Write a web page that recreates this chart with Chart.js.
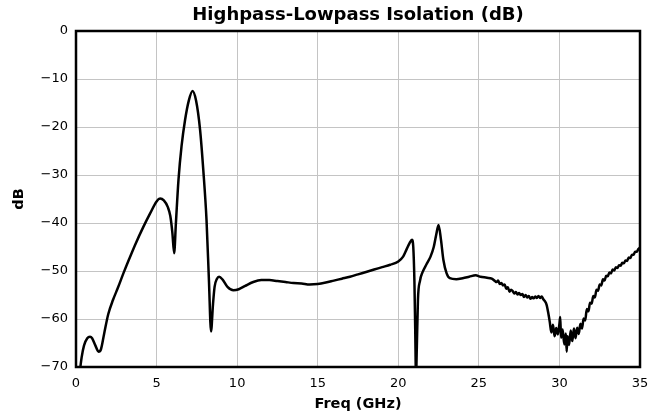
<!DOCTYPE html>
<html>
<head>
<meta charset="utf-8">
<script src="https://cdn.jsdelivr.net/npm/chart.js@4/dist/chart.umd.min.js"></script>
<style>
html,body{margin:0;padding:0;background:#fff;}
#wrap{width:665px;height:417px;position:relative;}
</style>
</head>
<body>
<div id="wrap"><canvas id="c"></canvas></div>
<script>
const chartTitle = 'Highpass-Lowpass Isolation (dB)';
const xTitle = 'Freq (GHz)';
const yTitle = 'dB';
const xTicks = [0, 5, 10, 15, 20, 25, 30, 35];
const yTicks = [0, -10, -20, -30, -40, -50, -60, -70];

const freq = [
  0.2, 0.35, 0.5, 0.7, 0.87, 1.0, 1.2, 1.4, 1.55, 1.75,
  2.0, 2.3, 2.6, 2.94, 3.3, 3.7, 4.18, 4.6, 5.0, 5.22,
  5.45, 5.7, 5.85, 5.98, 6.09, 6.2, 6.36, 6.55, 6.77, 7.0,
  7.23, 7.45, 7.7, 7.9, 8.1, 8.25, 8.38, 8.5, 8.6, 8.75,
  8.88, 9.1, 9.4, 9.77, 10.1, 10.5, 11.0, 11.5, 12.0, 12.5,
  13.0, 13.5, 14.0, 14.5, 15.0, 15.5, 16.0, 16.5, 17.0, 17.5,
  18.0, 18.5, 19.0, 19.5, 20.0, 20.3, 20.5, 20.7, 20.85, 20.93,
  21.0, 21.05, 21.1, 21.15, 21.22, 21.35, 21.5, 21.75, 22.0, 22.2,
  22.35, 22.5, 22.65, 22.8, 23.0, 23.2, 23.6, 24.0, 24.4, 24.8,
  25.1, 25.5, 25.8,
  26.0, 26.1, 26.2, 26.3, 26.4, 26.5, 26.6, 26.7, 26.8, 26.9,
  27.0, 27.1, 27.2, 27.3, 27.4, 27.5, 27.6, 27.7, 27.8, 27.9,
  28.0, 28.1, 28.2, 28.3, 28.4, 28.5, 28.6, 28.7, 28.8, 28.9,
  29.0, 29.1, 29.2, 29.3, 29.4, 29.5, 29.6, 29.7, 29.8, 29.9,
  30.0, 30.05, 30.1, 30.2, 30.3, 30.4, 30.45, 30.5, 30.6, 30.7,
  30.8, 30.9, 31.0, 31.1, 31.2, 31.3, 31.4, 31.5, 31.6, 31.7,
  31.8, 31.9, 32.0, 32.1, 32.2, 32.3, 32.4, 32.5, 32.6, 32.7,
  32.8, 32.9, 33.0, 33.1, 33.2, 33.3, 33.4, 33.5, 33.6, 33.7,
  33.8, 33.9, 34.0, 34.1, 34.2, 34.3, 34.4, 34.5, 34.6, 34.7,
  34.8, 34.9, 35.0
];
const isolation = [
  -72, -68, -65.5, -64, -63.7, -64, -65.5, -66.8, -66.3, -63,
  -59, -56, -53.5, -50.5, -47.5, -44.3, -40.8, -38, -35.5, -34.9,
  -35.3, -36.7, -38.5, -42, -46.3, -40, -31, -24, -18.5, -14.5,
  -12.5, -14.5, -20.6, -29, -39.4, -52, -62.6, -57, -53.3, -51.6,
  -51.2, -51.8, -53.3, -54, -53.8, -53.1, -52.3, -51.9, -51.9, -52.1,
  -52.3, -52.5, -52.6, -52.8, -52.7, -52.4, -52, -51.6, -51.2, -50.7,
  -50.2, -49.7, -49.2, -48.7, -48, -47, -45.6, -44.2, -43.5, -45,
  -52, -62, -72, -66, -56, -52, -50.3, -48.6, -47, -45,
  -42.5, -40.4, -43.5, -47.7, -50.5, -51.5, -51.7, -51.5, -51.2, -50.9,
  -51.2, -51.4, -51.6,
  -52.1, -52.3, -52.0, -52.7, -52.5, -53.0, -52.8, -53.7, -53.4, -54.3,
  -53.9, -54.2, -54.7, -54.4, -54.9, -54.6, -55.0, -54.8, -55.4, -55.0,
  -55.5, -55.2, -55.8, -55.4, -55.7, -55.3, -55.6, -55.2, -55.6, -55.3,
  -55.9, -56.3, -57.0, -58.6, -60.6, -62.8, -61.2, -63.6, -61.9, -63.2,
  -61.0, -59.6, -63.9, -62.2, -65.3, -63.0, -66.8, -63.6, -65.4, -62.4,
  -64.6, -62.0, -64.0, -61.8, -63.1, -61.0, -62.0, -59.9, -60.3, -57.9,
  -58.4, -56.6, -56.8, -55.2, -55.5, -53.9, -54.1, -52.8, -53.0, -51.7,
  -52.0, -51.0, -51.1, -50.3, -50.5, -49.7, -49.9, -49.2, -49.4, -48.8,
  -48.9, -48.3, -48.4, -47.8, -47.9, -47.2, -47.3, -46.6, -46.6, -46.0,
  -46.0, -45.4, -45.1
];

const points = freq.map((f, i) => ({x: f, y: isolation[i]}));
const fontFam = '"DejaVu Sans", sans-serif';

const framePlugin = {
  id: 'frame',
  afterDraw(chart) {
    const {ctx, chartArea: a} = chart;
    ctx.save();
    ctx.strokeStyle = '#000';
    ctx.lineWidth = 2.5;
    ctx.strokeRect(a.left, a.top, a.right - a.left, a.bottom - a.top);
    ctx.fillStyle = '#000';
    ctx.font = 'bold 18px ' + fontFam;
    ctx.textAlign = 'center';
    ctx.textBaseline = 'middle';
    ctx.fillText(chartTitle, (a.left + a.right) / 2, 15);
    ctx.restore();
  }
};

new Chart(document.getElementById('c'), {
  type: 'line',
  data: {
    datasets: [{
      data: points,
      borderColor: '#000',
      borderWidth: 2.5,
      pointRadius: 0,
      fill: false,
      cubicInterpolationMode: 'monotone'
    }]
  },
  options: {
    responsive: true,
    maintainAspectRatio: false,
    animation: false,
    layout: {padding: {left: 0, right: 25, top: 31, bottom: 0}},
    plugins: {legend: {display: false}, tooltip: {enabled: false}, title: {display: false}},
    scales: {
      x: {
        type: 'linear', min: 0, max: 35,
        afterBuildTicks: s => { s.ticks = xTicks.map(v => ({value: v})); },
        afterFit: s => { s.height = 50; },
        grid: {color: '#c4c4c4', lineWidth: 1, drawTicks: false},
        border: {display: false},
        ticks: {color: '#000', font: {family: fontFam, size: 13}, padding: 9, maxRotation: 0},
        title: {display: true, text: xTitle, color: '#000', font: {family: fontFam, size: 14.5, weight: 'bold'}, padding: {top: 0}}
      },
      y: {
        type: 'linear', min: -70, max: 0,
        afterBuildTicks: s => { s.ticks = yTicks.map(v => ({value: v})); },
        afterFit: s => { s.width = 76; },
        grid: {color: '#c4c4c4', lineWidth: 1, drawTicks: false},
        border: {display: false},
        ticks: {color: '#000', font: {family: fontFam, size: 13}, padding: 8,
          callback: v => String(v).replace('-', '\u2212')},
        title: {display: true, text: yTitle, color: '#000', font: {family: fontFam, size: 14.5, weight: 'bold'}, padding: {top: 11, bottom: 0}}
      }
    }
  },
  plugins: [framePlugin]
});
</script>
</body>
</html>
